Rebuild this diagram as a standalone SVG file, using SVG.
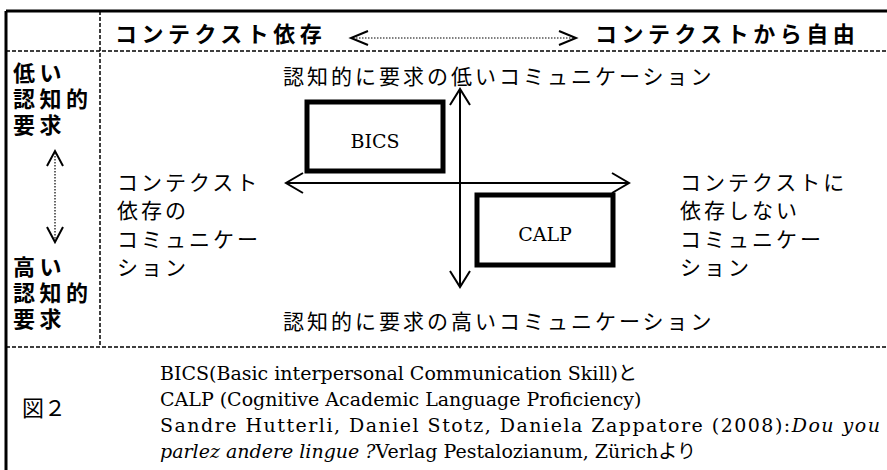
<svg xmlns="http://www.w3.org/2000/svg" width="887" height="470" viewBox="0 0 887 470">
<style>
.g{font-family:"Noto Sans CJK JP","Noto Sans",sans-serif;font-weight:bold;font-size:22px;letter-spacing:4.5px;fill:#000}
.m{font-family:"Noto Sans CJK JP",sans-serif;font-size:21px;letter-spacing:3px;fill:#000}
.s{font-family:"DejaVu Serif","Noto Sans CJK JP",serif;font-size:19px;fill:#000}
.solid{stroke:#000;stroke-width:3;fill:none}
.dash{stroke:#000;stroke-width:1.5;stroke-dasharray:4 2;fill:none}
.dot{stroke:#000;stroke-width:1.2;stroke-dasharray:1.5 1.5;fill:none}
.arr{stroke:#000;stroke-width:2;fill:none}
.box{stroke:#000;stroke-width:5;fill:#fff}
</style>
<g id="table">
<path class="solid" d="M6 11H887M6 11V470"/>
<path class="dash" d="M6 51H887M6 347H887M100 11V347"/>
</g>
<g id="header">
<text class="g" x="115" y="42">コンテクスト依存</text>
<text class="g" x="595" y="42">コンテクストから自由</text>
</g>
<g id="left-labels">
<text class="g" x="13" y="81">低い</text>
<text class="g" x="13" y="107">認知的</text>
<text class="g" x="13" y="133">要求</text>
<text class="g" x="13" y="275">高い</text>
<text class="g" x="13" y="301">認知的</text>
<text class="g" x="13" y="327">要求</text>
</g>
<g id="connectors">
<path class="dot" d="M353 38H574"/>
<path class="arr" stroke-width="1.5" d="M368 31L351 38L368 45M559 31L576 38L559 45"/>
<path class="dot" d="M55 153V240"/>
<path class="arr" stroke-width="1.5" d="M47 166L55 151L63 166M47 227L55 242L63 227"/>
<path class="arr" d="M460 89V287M450 105L460 89L470 105M450 271L460 287L470 271"/>
<path class="arr" d="M286 183H629M303 173L286 183L303 193M612 173L629 183L612 193"/>
</g>
<g id="top-label"><text class="m" x="283" y="84">認知的に要求の低いコミュニケーション</text></g>
<g id="bottom-label"><text class="m" x="283" y="329">認知的に要求の高いコミュニケーション</text></g>
<g id="left-label">
<text class="m" x="117" y="190">コンテクスト</text>
<text class="m" x="117" y="218">依存の</text>
<text class="m" x="117" y="247">コミュニケー</text>
<text class="m" x="117" y="275">ション</text>
</g>
<g id="right-label">
<text class="m" x="680" y="190">コンテクストに</text>
<text class="m" x="680" y="218">依存しない</text>
<text class="m" x="680" y="247">コミュニケー</text>
<text class="m" x="680" y="275">ション</text>
</g>
<g id="BICS">
<rect class="box" x="307" y="102" width="136" height="69"/>
<text class="s" x="375" y="148" font-size="31" text-anchor="middle">BICS</text>
</g>
<g id="CALP">
<rect class="box" x="477" y="195" width="136" height="70"/>
<text class="s" x="545" y="241" font-size="31" text-anchor="middle">CALP</text>
</g>
<g id="caption">
<text x="22" y="416" style="font-family:'Noto Sans CJK JP',sans-serif;font-size:22px">図２</text>
<text class="s" x="160" y="380">BICS(Basic interpersonal Communication Skill)と</text>
<text class="s" x="160" y="406">CALP (Cognitive Academic Language Proficiency)</text>
<text class="s" x="160" y="432" textLength="720" lengthAdjust="spacing">Sandre Hutterli, Daniel Stotz, Daniela Zappatore (2008):<tspan font-style="italic">Dou you</tspan></text>
<text class="s" x="160" y="458"><tspan font-style="italic">parlez andere lingue ?</tspan>Verlag Pestalozianum, Zürichより</text>
</g>
</svg>
